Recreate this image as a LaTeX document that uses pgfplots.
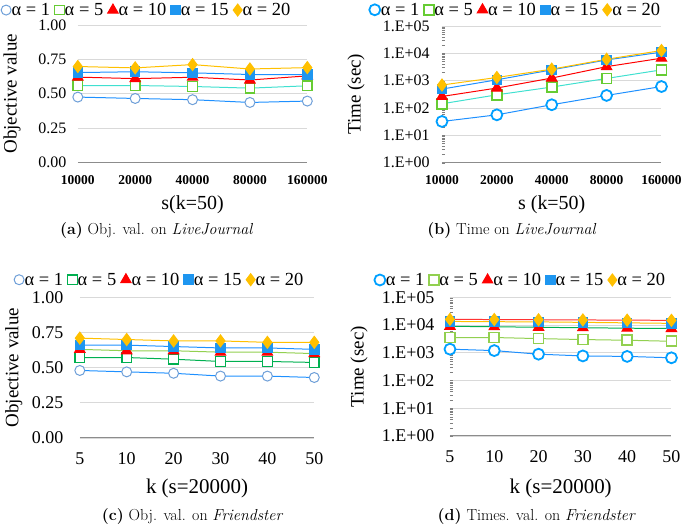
\documentclass[border=0pt]{standalone}
\usepackage{pgfplots}
\pgfplotsset{compat=1.18}
\usepackage{fontspec}
\newfontfamily\cam{Liberation Serif}
\definecolor{blueL}{HTML}{1E90FF}
\definecolor{circA}{HTML}{6E9FD8}
\definecolor{circB}{HTML}{00A0FF}
\definecolor{turq}{HTML}{40E0D0}
\definecolor{grnA}{HTML}{66CC33}
\definecolor{grnC}{HTML}{00B050}
\definecolor{lgrn}{HTML}{92D050}
\definecolor{sqB}{HTML}{1E96F0}
\definecolor{gold}{HTML}{FFC000}
\definecolor{axg}{HTML}{8C8C8C}
\definecolor{grd}{HTML}{D9D9D9}
\pgfplotsset{
  base/.style={
    scale only axis,
    axis x line*=bottom,
    axis y line*=left,
    y axis line style={draw=none},
    x axis line style={draw=axg, line width=1pt},
    major tick length=0pt,
    ymajorgrids,
    grid style={draw=grd, line width=0.8pt},
    clip=false,
    legend columns=5,
    legend cell align=left,
    legend style={draw=none, fill=none, inner sep=0pt, anchor=west,
      font=\cam\fontsize{18.5}{19}\selectfont,
      /tikz/every even column/.append style={column sep=4pt},
      nodes={inner sep=0.5pt}},
    legend image code/.code={\draw[##1,only marks] plot coordinates {(0pt,0pt)};},
    xtick=data,
    every axis plot/.append style={line width=1pt},
  },
}
\begin{document}
\begin{tikzpicture}[x=1pt,y=1pt]
\path (0,0) rectangle (685,526);
% ---------------- (a)
\begin{axis}[base, at={(78pt,363pt)}, anchor=south west, width=230pt, height=138pt,
  xmin=0, xmax=4, ymin=0, ymax=1,
  xticklabels={10000,20000,40000,80000,160000},
  ytick={0,0.25,0.5,0.75,1}, yticklabels={0.00,0.25,0.50,0.75,1.00},
  xticklabel style={font=\cam\bfseries\fontsize{13.5}{15}\selectfont, yshift=-9pt},
  yticklabel style={font=\cam\fontsize{16}{18}\selectfont, xshift=-8pt},
  xlabel={s(k=50)}, ylabel={Objective value},
  xlabel style={font=\cam\fontsize{20}{22}\selectfont, at={(axis description cs:0.5,-0.304)}, anchor=center},
  ylabel style={font=\cam\fontsize{19}{21}\selectfont, at={(axis description cs:-0.287,0.5)}, anchor=center},
  legend style={at={(axis description cs:-0.335,1.108)}},
]
\addplot[blueL, mark=*, mark size=5pt, mark options={fill=white, draw=circA, line width=1pt}] coordinates {(0,0.476)(1,0.466)(2,0.457)(3,0.437)(4,0.447)};
\addlegendentry{α = 1}
\addplot[turq, mark=square*, mark size=4.8pt, mark options={fill=white, draw=grnA, line width=1.2pt}] coordinates {(0,0.560)(1,0.560)(2,0.553)(3,0.541)(4,0.558)};
\addlegendentry{α = 5}
\addplot[red, mark=triangle*, mark size=6pt, mark options={fill=red, draw=red}] coordinates {(0,0.621)(1,0.610)(2,0.620)(3,0.600)(4,0.630)};
\addlegendentry{α = 10}
\addplot[blueL, mark=square*, mark size=4.8pt, mark options={fill=sqB, draw=sqB}] coordinates {(0,0.654)(1,0.660)(2,0.652)(3,0.640)(4,0.640)};
\addlegendentry{α = 15}
\addplot[gold, mark=diamond*, mark size=6pt, mark options={fill=gold, draw=gold}] coordinates {(0,0.698)(1,0.688)(2,0.712)(3,0.680)(4,0.690)};
\addlegendentry{α = 20}
\end{axis}
% ---------------- (b)
\begin{axis}[base, at={(443pt,363pt)}, anchor=south west, width=220pt, height=137pt,
  xmin=0, xmax=4, ymode=log, ymin=1, ymax=100000,
  xticklabels={10000,20000,40000,80000,160000},
  ytick={1,10,100,1000,10000,100000}, yticklabels={1.E+00,1.E+01,1.E+02,1.E+03,1.E+04,1.E+05},
  xticklabel style={font=\cam\bfseries\fontsize{13.5}{15}\selectfont, yshift=-9pt},
  yticklabel style={font=\cam\fontsize{16}{18}\selectfont, xshift=-9pt},
  xlabel={s (k=50)}, ylabel={Time (sec)},
  xlabel style={font=\cam\fontsize{20}{22}\selectfont, at={(axis description cs:0.5,-0.307)}, anchor=center},
  ylabel style={font=\cam\fontsize{19}{21}\selectfont, at={(axis description cs:-0.391,0.5)}, anchor=center},
  legend style={at={(axis description cs:-0.332,1.118)}},
]
\addplot[blueL, mark=*, mark size=5.5pt, mark options={fill=white, draw=circB, line width=1.8pt}] coordinates {(0,32)(1,56)(2,131)(3,287)(4,607)};
\addlegendentry{α = 1}
\addplot[turq, mark=square*, mark size=5pt, mark options={fill=white, draw=grnA, line width=1.8pt}] coordinates {(0,142)(1,302)(2,580)(3,1200)(4,2470)};
\addlegendentry{α = 5}
\addplot[red, mark=triangle*, mark size=6pt, mark options={fill=red, draw=red}] coordinates {(0,263)(1,535)(2,1240)(3,3240)(4,6600)};
\addlegendentry{α = 10}
\addplot[blueL, mark=square*, mark size=4.8pt, mark options={fill=sqB, draw=sqB}] coordinates {(0,490)(1,1070)(2,2470)(3,5700)(4,11000)};
\addlegendentry{α = 15}
\addplot[gold, mark=diamond*, mark size=6pt, mark options={fill=gold, draw=gold}] coordinates {(0,690)(1,1300)(2,2620)(3,6030)(4,12600)};
\addlegendentry{α = 20}
\end{axis}
% ---------------- (c)
\begin{axis}[base, at={(80pt,87pt)}, anchor=south west, width=235pt, height=141pt,
  xmin=0, xmax=5, ymin=0, ymax=1,
  xticklabels={5,10,20,30,40,50},
  ytick={0,0.25,0.5,0.75,1}, yticklabels={0.00,0.25,0.50,0.75,1.00},
  xticklabel style={font=\cam\fontsize{18}{20}\selectfont, yshift=-11pt},
  yticklabel style={font=\cam\fontsize{18}{20}\selectfont, xshift=-13pt},
  xlabel={k (s=20000)}, ylabel={Objective value},
  xlabel style={font=\cam\fontsize{21}{23}\selectfont, at={(axis description cs:0.5,-0.362)}, anchor=center},
  ylabel style={font=\cam\fontsize{19}{21}\selectfont, at={(axis description cs:-0.281,0.5)}, anchor=center},
  legend style={at={(axis description cs:-0.281,1.125)}},
]
\addplot[blueL, mark=*, mark size=5pt, mark options={fill=white, draw=circA, line width=1pt}] coordinates {(0,0.48)(1,0.47)(2,0.46)(3,0.44)(4,0.44)(5,0.43)};
\addlegendentry{α = 1}
\addplot[grnC, mark=square*, mark size=4.8pt, mark options={fill=white, draw=grnC, line width=1.2pt}] coordinates {(0,0.572)(1,0.572)(2,0.56)(3,0.544)(4,0.544)(5,0.537)};
\addlegendentry{α = 5}
\addplot[lgrn, mark=triangle*, mark size=6pt, mark options={fill=red, draw=red}] coordinates {(0,0.63)(1,0.62)(2,0.62)(3,0.61)(4,0.61)(5,0.60)};
\addlegendentry{α = 10}
\addplot[blueL, mark=square*, mark size=4.8pt, mark options={fill=sqB, draw=sqB}] coordinates {(0,0.66)(1,0.66)(2,0.65)(3,0.64)(4,0.64)(5,0.63)};
\addlegendentry{α = 15}
\addplot[gold, mark=diamond*, mark size=6pt, mark options={fill=gold, draw=gold}] coordinates {(0,0.71)(1,0.70)(2,0.69)(3,0.69)(4,0.68)(5,0.68)};
\addlegendentry{α = 20}
\end{axis}
% ---------------- (d)
\begin{axis}[base, at={(451pt,89pt)}, anchor=south west, width=222pt, height=139pt,
  xmin=0, xmax=5, ymode=log, ymin=1, ymax=100000,
  xticklabels={5,10,20,30,40,50},
  ytick={1,10,100,1000,10000,100000}, yticklabels={1.E+00,1.E+01,1.E+02,1.E+03,1.E+04,1.E+05},
  xticklabel style={font=\cam\fontsize{18}{20}\selectfont, yshift=-11pt},
  yticklabel style={font=\cam\fontsize{18}{20}\selectfont, xshift=-12pt},
  xlabel={k (s=20000)}, ylabel={Time (sec)},
  xlabel style={font=\cam\fontsize{21}{23}\selectfont, at={(axis description cs:0.5,-0.381)}, anchor=center},
  ylabel style={font=\cam\fontsize{19}{21}\selectfont, at={(axis description cs:-0.41,0.5)}, anchor=center},
  legend style={at={(axis description cs:-0.342,1.125)}},
]
\addplot[blueL, mark=*, mark size=5.5pt, mark options={fill=white, draw=circB, line width=1.8pt}] coordinates {(0,1350)(1,1200)(2,890)(3,770)(4,740)(5,660)};
\addlegendentry{α = 1}
\addplot[lgrn, mark=square*, mark size=5pt, mark options={fill=white, draw=lgrn, line width=1.8pt}] coordinates {(0,3550)(1,3550)(2,3250)(3,3000)(4,2830)(5,2600)};
\addlegendentry{α = 5}
\addplot[grnC, mark=triangle*, mark size=6pt, mark options={fill=red, draw=red}] coordinates {(0,9000)(1,8700)(2,8300)(3,8000)(4,7700)(5,7500)};
\addlegendentry{α = 10}
\addplot[gold, mark=square*, mark size=4.8pt, mark options={fill=sqB, draw=sqB}] coordinates {(0,13500)(1,13200)(2,13000)(3,12500)(4,12000)(5,11500)};
\addlegendentry{α = 15}
\addplot[red!80, mark=diamond*, mark size=6pt, mark options={fill=gold, draw=gold}] coordinates {(0,16000)(1,15800)(2,15500)(3,15300)(4,15000)(5,14800)};
\addlegendentry{α = 20}
\end{axis}
% captions
\node[font=\fontsize{16}{18}\selectfont] at (157pt,295pt) {\textbf{(a)} Obj. val. on \textit{LiveJournal}};
\node[font=\fontsize{16}{18}\selectfont] at (513pt,295pt) {\textbf{(b)} Time on \textit{LiveJournal}};
\node[font=\fontsize{16}{18}\selectfont] at (193pt,8pt) {\textbf{(c)} Obj. val. on \textit{Friendster}};
\node[font=\fontsize{16}{18}\selectfont] at (538pt,8pt) {\textbf{(d)} Times. val. on \textit{Friendster}};
\end{tikzpicture}
\end{document}
